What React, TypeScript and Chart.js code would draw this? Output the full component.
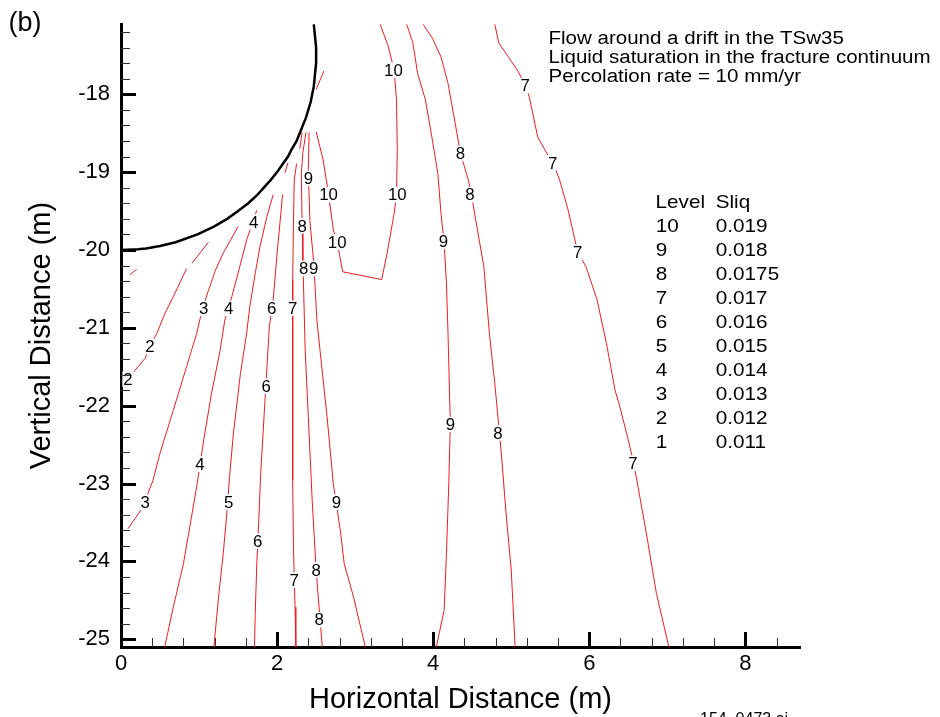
import React, { useEffect, useRef } from 'react';
import { Chart, registerables } from 'chart.js';

Chart.register(...registerables);

type Pt = [number, number];

const FONT = "'Liberation Sans', Arial, Helvetica, sans-serif";
const RED = '#ec1c24';

// ---- axes ----
const X_RANGE: Pt = [0, 8.7];
const Y_RANGE: Pt = [-25.1, -17.1];
const X_TICKS = [0, 2, 4, 6, 8];
const Y_TICKS = [-25, -24, -23, -22, -21, -20, -19, -18];

// ---- drift wall ----
const DRIFT_OUTLINE: Pt[] = [
  [0, -20], [0.22, -19.99], [0.32, -19.98], [0.5, -19.95], [0.7, -19.9], [0.98, -19.8],
  [1.19, -19.7], [1.36, -19.6], [1.5, -19.5], [1.63, -19.4], [1.74, -19.3], [1.83, -19.2],
  [1.92, -19.1], [2.0, -19.0], [2.07, -18.9], [2.14, -18.8], [2.19, -18.7], [2.25, -18.6],
  [2.29, -18.5], [2.33, -18.4], [2.37, -18.3], [2.4, -18.2], [2.43, -18.1], [2.45, -18.0],
  [2.47, -17.9], [2.48, -17.8], [2.49, -17.7], [2.5, -17.6], [2.5, -17.5], [2.5, -17.4],
  [2.49, -17.3], [2.48, -17.2], [2.47, -17.1],
];

// ---- contour lines, one array of segments per level ----
const LEVEL_1: Pt[][] = [[[0.11, -20.32], [0.2, -20.25]]];
const LEVEL_2: Pt[][] = [
  [[0.1, -21.64], [0.16, -21.57], [0.31, -21.39], [0.37, -21.24], [0.46, -21.07], [0.56, -20.82], [0.67, -20.6], [0.84, -20.24]],
  [[0.91, -20.17], [1.12, -19.9]],
];
const LEVEL_3: Pt[][] = [
  [[0.09, -23.58], [0.27, -23.32], [0.41, -22.96], [0.5, -22.61], [0.67, -22.06], [0.84, -21.5], [0.97, -21.07], [1.04, -20.77], [1.12, -20.52], [1.21, -20.26], [1.31, -20.04], [1.5, -19.7]],
];
const LEVEL_4: Pt[][] = [
  [[1.74, -19.49], [1.61, -19.87], [1.5, -20.3], [1.42, -20.6], [1.33, -20.9], [1.27, -21.29], [1.16, -21.84], [1.06, -22.44], [0.97, -23.04], [0.91, -23.39], [0.8, -24.03], [0.67, -24.59], [0.56, -25.1]],
];
const LEVEL_5: Pt[][] = [
  [[1.95, -19.29], [1.87, -19.57], [1.78, -19.96], [1.72, -20.3], [1.65, -20.73], [1.61, -21.07], [1.53, -21.59], [1.44, -22.36], [1.39, -22.92], [1.36, -23.34], [1.31, -23.9], [1.25, -24.46], [1.19, -25.1]],
];
const LEVEL_6: Pt[][] = [
  [[2.14, -18.88], [2.1, -19.01]],
  [[2.07, -19.29], [2.04, -19.62], [2.0, -20.04], [1.95, -20.64], [1.9, -20.99], [1.87, -21.5], [1.82, -22.36], [1.79, -22.87], [1.76, -23.6], [1.74, -24.03], [1.72, -24.67], [1.71, -25.1]],
];
const LEVEL_7: Pt[][] = [
  [[2.32, -18.49], [2.29, -18.7]],
  [[2.25, -18.89], [2.22, -19.1], [2.21, -19.62], [2.2, -20.39], [2.2, -21.93], [2.2, -22.96], [2.21, -23.82], [2.23, -24.59], [2.24, -25.1]],
  [[4.79, -17.1], [4.84, -17.34], [4.95, -17.5], [5.09, -17.71], [5.18, -17.88], [5.23, -18.03], [5.34, -18.55], [5.48, -18.8], [5.54, -18.89], [5.62, -19.1], [5.73, -19.49], [5.85, -20.02], [5.96, -20.22], [6.1, -20.64], [6.22, -21.2], [6.33, -21.8], [6.38, -21.97], [6.49, -22.4], [6.57, -22.74], [6.61, -22.96], [6.74, -23.69], [6.86, -24.41], [7.02, -25.1]],
];
const LEVEL_8: Pt[][] = [
  [[2.37, -18.49], [2.33, -18.75], [2.31, -19.02], [2.32, -19.62], [2.33, -20.13], [2.35, -20.9], [2.36, -21.29], [2.4, -22.14], [2.45, -23.22], [2.5, -24.11], [2.55, -24.75], [2.58, -25.1]],
  [[3.87, -17.1], [3.99, -17.28], [4.1, -17.52], [4.19, -17.86], [4.29, -18.42], [4.35, -18.76], [4.45, -19.1], [4.49, -19.29], [4.56, -19.7], [4.65, -20.22], [4.72, -21.07], [4.79, -21.72], [4.85, -22.36], [4.88, -22.7], [4.93, -23.34], [5.0, -24.11], [5.05, -25.1]],
];
const LEVEL_9: Pt[][] = [
  [[2.41, -18.49], [2.4, -18.97], [2.42, -19.62], [2.47, -20.17], [2.51, -20.9], [2.55, -21.29], [2.64, -22.14], [2.72, -23.0], [2.81, -23.6], [2.86, -24.03], [2.98, -24.46], [3.13, -25.1]],
  [[3.66, -17.1], [3.74, -17.34], [3.8, -17.73], [3.9, -18.07], [3.99, -18.59], [4.06, -19.02], [4.1, -19.53], [4.14, -19.9], [4.17, -20.43], [4.19, -21.07], [4.22, -22.23], [4.2, -23.0], [4.17, -23.9], [4.14, -24.63], [4.04, -25.1]],
];
const LEVEL_10: Pt[][] = [
  [[2.5, -18.48], [2.59, -18.84], [2.66, -19.29], [2.72, -19.74], [2.77, -19.9], [2.84, -20.28], [3.34, -20.38], [3.41, -20.04], [3.5, -19.53], [3.53, -19.29], [3.54, -18.72], [3.53, -18.07], [3.5, -17.69], [3.42, -17.37], [3.32, -17.1]],
  [[2.6, -17.7], [2.5, -17.94]],
];

// ---- contour labels [text, x, y] ----
const CONTOUR_LABELS: [string, number, number][] = [
  ['10', 3.49, -17.69], ['7', 5.18, -17.89], ['8', 4.35, -18.76], ['7', 5.53, -18.88],
  ['9', 2.4, -19.08], ['10', 2.66, -19.29], ['10', 3.54, -19.29], ['8', 4.47, -19.29],
  ['4', 1.7, -19.64], ['8', 2.32, -19.69], ['10', 2.77, -19.9], ['9', 4.13, -19.89],
  ['7', 5.85, -20.03], ['8', 2.34, -20.24], ['9', 2.47, -20.24], ['3', 1.06, -20.75],
  ['4', 1.38, -20.75], ['6', 1.93, -20.75], ['7', 2.2, -20.75], ['2', 0.37, -21.24],
  ['2', 0.09, -21.66], ['6', 1.86, -21.75], ['9', 4.22, -22.24], ['8', 4.83, -22.35],
  ['7', 6.56, -22.74], ['4', 1.01, -22.75], ['3', 0.31, -23.24], ['5', 1.38, -23.24],
  ['9', 2.76, -23.24], ['6', 1.75, -23.74], ['8', 2.5, -24.11], ['7', 2.22, -24.24],
  ['8', 2.54, -24.75],
];

// ---- text blocks ----
const HEADER_LINES = [
  'Flow around a drift in the TSw35',
  'Liquid saturation in the fracture continuum',
  'Percolation rate = 10 mm/yr',
];
const LEGEND_LEVELS = ['10', '9', '8', '7', '6', '5', '4', '3', '2', '1'];
const LEGEND_SLIQ = ['0.019', '0.018', '0.0175', '0.017', '0.016', '0.015', '0.014', '0.013', '0.012', '0.011'];

const CONTOUR_LEVELS: Pt[][][] = [LEVEL_1, LEVEL_2, LEVEL_3, LEVEL_4, LEVEL_5, LEVEL_6, LEVEL_7, LEVEL_8, LEVEL_9, LEVEL_10];

function stretchText(ctx: CanvasRenderingContext2D, text: string, x: number, y: number, size: number, sx: number) {
  ctx.save();
  ctx.font = `${size}px ${FONT}`;
  ctx.textAlign = 'left';
  ctx.textBaseline = 'alphabetic';
  ctx.fillStyle = '#000';
  ctx.translate(x, y);
  ctx.scale(sx, 1);
  ctx.fillText(text, 0, 0);
  ctx.restore();
}

const decorPlugin = {
  id: 'decor',
  afterDraw(chart: any) {
    const { ctx, chartArea } = chart;
    const xs = chart.scales.x;
    const ys = chart.scales.y;
    ctx.save();

    // contour labels with white knock-out
    const lsize = 16;
    const lsx = 1.05;
    CONTOUR_LABELS.forEach(([t, vx, vy]) => {
      const px = xs.getPixelForValue(vx);
      const py = ys.getPixelForValue(vy);
      ctx.font = `${lsize}px ${FONT}`;
      const w = ctx.measureText(t).width * lsx;
      const cap = lsize * 0.716;
      ctx.fillStyle = '#fff';
      ctx.fillRect(px - w / 2 - 1, py - cap / 2 - 2, w + 2, cap + 4);
      stretchText(ctx, t, px - w / 2, py + cap / 2, lsize, lsx);
    });

    // minor ticks
    ctx.strokeStyle = '#333';
    ctx.lineWidth = 1;
    ctx.beginPath();
    for (let k = -124; k <= -86; k++) {
      if (k % 5 === 0) continue;
      const py = Math.round(ys.getPixelForValue(k / 5)) + 0.5;
      ctx.moveTo(chartArea.left, py);
      ctx.lineTo(chartArea.left + 9, py);
    }
    for (let k = 1; k <= 21; k++) {
      if (k % 5 === 0) continue;
      const px = Math.round(xs.getPixelForValue(k * 0.4)) + 0.5;
      ctx.moveTo(px, chartArea.bottom);
      ctx.lineTo(px, chartArea.bottom - 9);
    }
    ctx.stroke();

    // major ticks
    ctx.strokeStyle = '#000';
    ctx.lineWidth = 3;
    ctx.beginPath();
    Y_TICKS.forEach((v) => {
      const py = Math.round(ys.getPixelForValue(v)) + 0.5;
      ctx.moveTo(chartArea.left, py);
      ctx.lineTo(chartArea.left + 15, py);
    });
    X_TICKS.forEach((v) => {
      const px = Math.round(xs.getPixelForValue(v)) + 0.5;
      ctx.moveTo(px, chartArea.bottom);
      ctx.lineTo(px, chartArea.bottom - 15);
    });
    ctx.stroke();

    // header
    const hb = [44.3, 63.3, 81.7];
    HEADER_LINES.forEach((t, i) => stretchText(ctx, t, 548.5, hb[i], 18, 1.14));

    // legend table
    stretchText(ctx, 'Level', 655.5, 207.6, 19, 1.09);
    stretchText(ctx, 'Sliq', 715.7, 207.6, 19, 1.09);
    LEGEND_LEVELS.forEach((t, i) => {
      const b = 231.7 + i * 24.07;
      stretchText(ctx, t, 655.8, b, 19, 1.09);
      stretchText(ctx, LEGEND_SLIQ[i], 715.8, b, 19, 1.09);
    });

    // panel tag and file id
    stretchText(ctx, '(b)', 8.5, 30.5, 27, 1.0);
    stretchText(ctx, '154_0473.ai', 700, 723.5, 16, 1.0);

    ctx.restore();
  },
};

export default function App() {
  const ref = useRef<HTMLCanvasElement | null>(null);

  useEffect(() => {
    const canvas = ref.current;
    if (!canvas) return;

    const seg = (pts: Pt[], color: string, width: number) => ({
      data: pts.map(([x, y]) => ({ x, y })),
      showLine: true,
      borderColor: color,
      backgroundColor: color,
      borderWidth: width,
      pointRadius: 0,
      pointHoverRadius: 0,
      fill: false,
      tension: 0,
    });

    const datasets: any[] = [seg(DRIFT_OUTLINE, '#000', 2.5)];
    CONTOUR_LEVELS.forEach((segments) => segments.forEach((s) => datasets.push(seg(s, RED, 1))));

    const chart = new Chart(canvas, {
      type: 'scatter',
      data: { datasets },
      options: {
        responsive: false,
        animation: false,
        devicePixelRatio: 1,
        events: [],
        layout: { padding: { left: 0, top: 24, right: 140, bottom: 0 } },
        plugins: {
          legend: { display: false },
          tooltip: { enabled: false },
        },
        scales: {
          x: {
            type: 'linear',
            position: 'bottom',
            min: X_RANGE[0],
            max: X_RANGE[1],
            afterBuildTicks: (s: any) => {
              s.ticks = X_TICKS.map((value) => ({ value }));
            },
            afterFit: (s: any) => {
              s.height = 70;
            },
            grid: { display: false, drawTicks: false },
            border: { display: true, color: '#000', width: 3 },
            ticks: {
              color: '#000',
              font: { family: FONT, size: 22 },
              padding: 4,
              maxRotation: 0,
              autoSkip: false,
              callback: (v: any) => String(v),
            },
            title: {
              display: true,
              text: 'Horizontal Distance (m)',
              color: '#000',
              font: { family: FONT, size: 29 },
              padding: { top: 0, bottom: 0 },
            },
          },
          y: {
            type: 'linear',
            position: 'left',
            min: Y_RANGE[0],
            max: Y_RANGE[1],
            afterBuildTicks: (s: any) => {
              s.ticks = Y_TICKS.map((value) => ({ value }));
            },
            afterFit: (s: any) => {
              s.width = 121;
            },
            grid: { display: false, drawTicks: false },
            border: { display: true, color: '#000', width: 3 },
            ticks: {
              color: '#000',
              font: { family: FONT, size: 22 },
              padding: 11,
              autoSkip: false,
              callback: (v: any) => String(v),
            },
            title: {
              display: true,
              text: 'Vertical Distance (m)',
              color: '#000',
              font: { family: FONT, size: 29 },
              padding: { top: 25, bottom: 0 },
            },
          },
        },
      } as any,
      plugins: [decorPlugin],
    });

    return () => chart.destroy();
  }, []);

  return (
    <div style={{ position: 'absolute', left: 0, top: 0, width: 940, height: 717, background: '#fff' }}>
      <canvas ref={ref} width={940} height={717} style={{ display: 'block' }} />
    </div>
  );
}
